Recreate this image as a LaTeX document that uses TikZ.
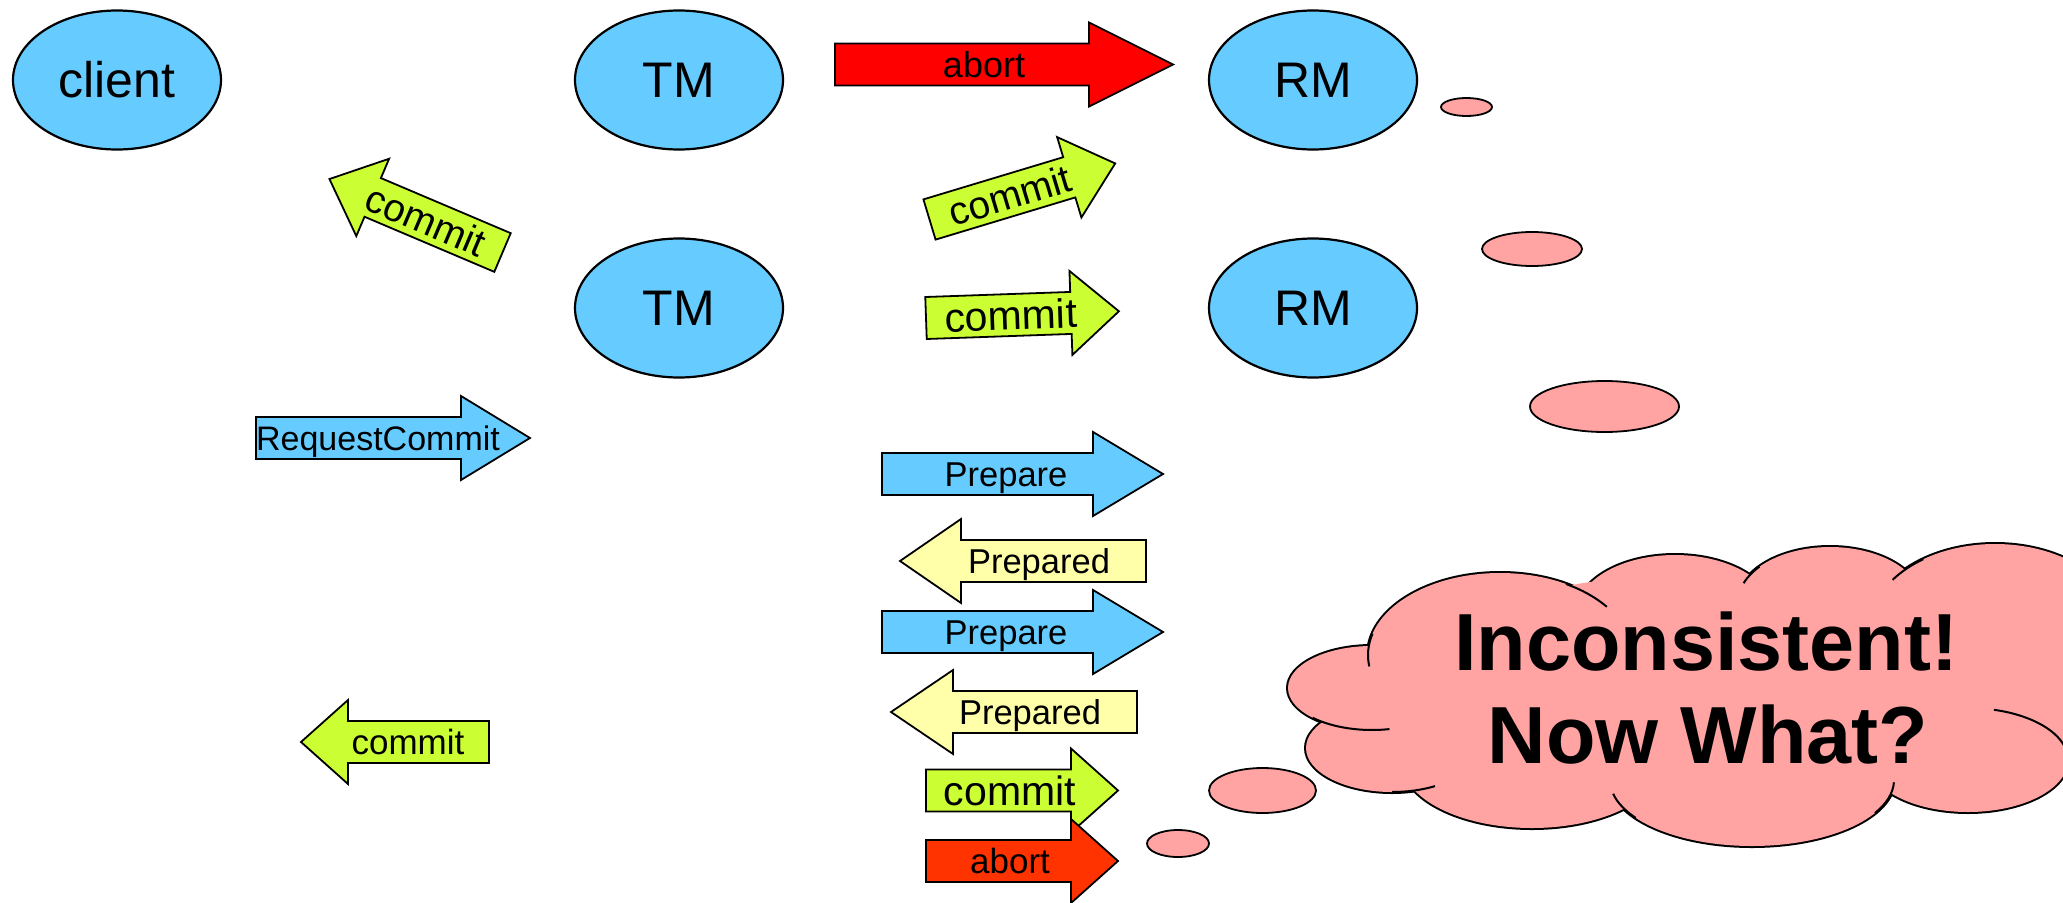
\documentclass[tikz,border=0pt]{standalone}
\usepackage{fontspec}
\setmainfont{Liberation Sans}
\usetikzlibrary{shapes.geometric}

\definecolor{nodeblue}{HTML}{66CCFF}
\definecolor{commitgreen}{HTML}{CCFF33}
\definecolor{prepyellow}{HTML}{FFFFAA}
\definecolor{abortred}{HTML}{FF0000}
\definecolor{abortorange}{HTML}{FF3300}
\definecolor{cloudpink}{HTML}{FFA3A3}

% Block arrow: #1 scope transform, #2 fill, #3 direction (1 right, -1 left),
% #4 total length, #5 head length, #6 label offset from tail, #7 node name,
% #8 font size, #9 label
\newcommand{\blockarrow}[9]{%
  \begin{scope}[#1]
    \draw[arrowbody, fill=#2]
      (0,-21) -- ({#3*(#4-#5)},-21) -- ({#3*(#4-#5)},-42) -- ({#3*#4},0)
      -- ({#3*(#4-#5)},42) -- ({#3*(#4-#5)},21) -- (0,21) -- cycle;
    \node[arrowtext, font=\fontsize{#8}{#8}\selectfont, text height=#8*0.72pt]
      (#7) at ({#3*#6},0) {#9};
  \end{scope}}

\begin{document}
\begin{tikzpicture}[x=1pt, y=-1pt,
  actor/.style={ellipse, draw, line width=2.2pt, fill=nodeblue,
    minimum width=208pt, minimum height=139pt, inner sep=0pt,
    font=\fontsize{50}{50}\selectfont},
  arrowbody/.style={draw, line width=1.8pt, line join=miter},
  arrowtext/.style={inner sep=0pt, text depth=0pt, transform shape},
  bubble/.style={draw, line width=1.8pt, fill=cloudpink},
  cloudtext/.style={anchor=base, inner sep=0pt,
    font=\fontsize{81}{93}\selectfont\bfseries}]

\path[use as bounding box] (0,0) rectangle (2063,902);
\fill[white] (0,0) rectangle (2063,902);
\clip (0,0) rectangle (2063,902);

% participants
\node[actor] (client) at (117,80) {client};
\node[actor] (tmA) at (679,80) {TM};
\node[actor] (tmB) at (679,308) {TM};
\node[actor] (rmA) at (1313,80) {RM};
\node[actor] (rmB) at (1313,308) {RM};

% messages
\blockarrow{shift={(835,64.5)}}{abortred}{1}{338}{84}{149}{abortA}{36}{abort}
\blockarrow{shift={(929.5,219.5)},rotate=16.8}{commitgreen}{1}{194}{48}{84}{commitB}{39}{commit}
\blockarrow{shift={(926,318)},rotate=2}{commitgreen}{1}{193}{48}{85}{commitC}{41}{commit}
\blockarrow{shift={(502.5,252.5)},rotate=-23}{commitgreen}{-1}{188}{47}{83}{commitD}{39}{commit}
\blockarrow{shift={(256,438)}}{nodeblue}{1}{274}{69}{122}{reqCommit}{34}{RequestCommit}
\blockarrow{shift={(882,474)}}{nodeblue}{1}{281}{70}{124}{prepA}{34.5}{Prepare}
\blockarrow{shift={(1146,561)}}{prepyellow}{-1}{246}{61}{107}{preparedA}{34.5}{Prepared}
\blockarrow{shift={(882,632)}}{nodeblue}{1}{281}{70}{124}{prepB}{34.5}{Prepare}
\blockarrow{shift={(1137,712)}}{prepyellow}{-1}{246}{62}{107}{preparedB}{34.5}{Prepared}
\blockarrow{shift={(926,790.5)}}{commitgreen}{1}{192}{47}{84}{commitE}{41}{commit}
\blockarrow{shift={(926,861)}}{abortorange}{1}{192}{47}{84}{abortB}{35}{abort}
\blockarrow{shift={(489,742)}}{commitgreen}{-1}{188}{47}{81}{commitF}{35}{commit}

% thought bubbles
\draw[bubble] (1466.5,107) ellipse[x radius=25.5, y radius=9];
\draw[bubble] (1532,249) ellipse[x radius=50, y radius=17];
\draw[bubble] (1604.5,406.5) ellipse[x radius=74.5, y radius=25.5];
\draw[bubble] (1262.5,790.5) ellipse[x radius=53.5, y radius=22.5];
\draw[bubble] (1178,843.5) ellipse[x radius=31, y radius=13.5];

% cloud: outline of the bumps, then their fill hides the inner half
\foreach \cx/\cy/\rx/\ry in {1500/655/132/82, 1675/612/98/57, 1830/602/92/55,
    1995/628/125/84, 1968/760/100/52, 1752/780/142/66, 1532/762/130/66,
    1392/748/86/44, 1372/688/84/42}
  \draw[line width=4pt] (\cx,\cy) ellipse[x radius=\rx, y radius=\ry];
\foreach \cx/\cy/\rx/\ry in {1500/655/132/82, 1675/612/98/57, 1830/602/92/55,
    1995/628/125/84, 1968/760/100/52, 1752/780/142/66, 1532/762/130/66,
    1392/748/86/44, 1372/688/84/42, 1690/690/290/115, 2110/700/115/80}
  \fill[cloudpink] (\cx,\cy) ellipse[x radius=\rx, y radius=\ry];
% short inner strokes where the bumps meet
\foreach \cx/\cy/\rx/\ry/\sa/\ea in {1500/655/132/82/195/172, 1500/655/132/82/-60/-36,
    1830/602/92/55/-140/-160, 1995/628/125/84/-125/-145, 1968/760/100/52/-75/-15,
    1752/780/142/66/30/2, 1752/780/142/66/145/168, 1392/748/86/44/90/60,
    1372/688/84/42/135/78}
  \draw[line width=2pt] (\cx,\cy) ++({\rx*cos(\sa)},{\ry*sin(\sa)})
    arc[start angle=\sa, end angle=\ea, x radius=\rx, y radius=\ry];

\node[cloudtext] (cloudA) at (1706,670) {Inconsistent!};
\node[cloudtext] (cloudB) at (1708,763) {Now What?};
\end{tikzpicture}
\end{document}
